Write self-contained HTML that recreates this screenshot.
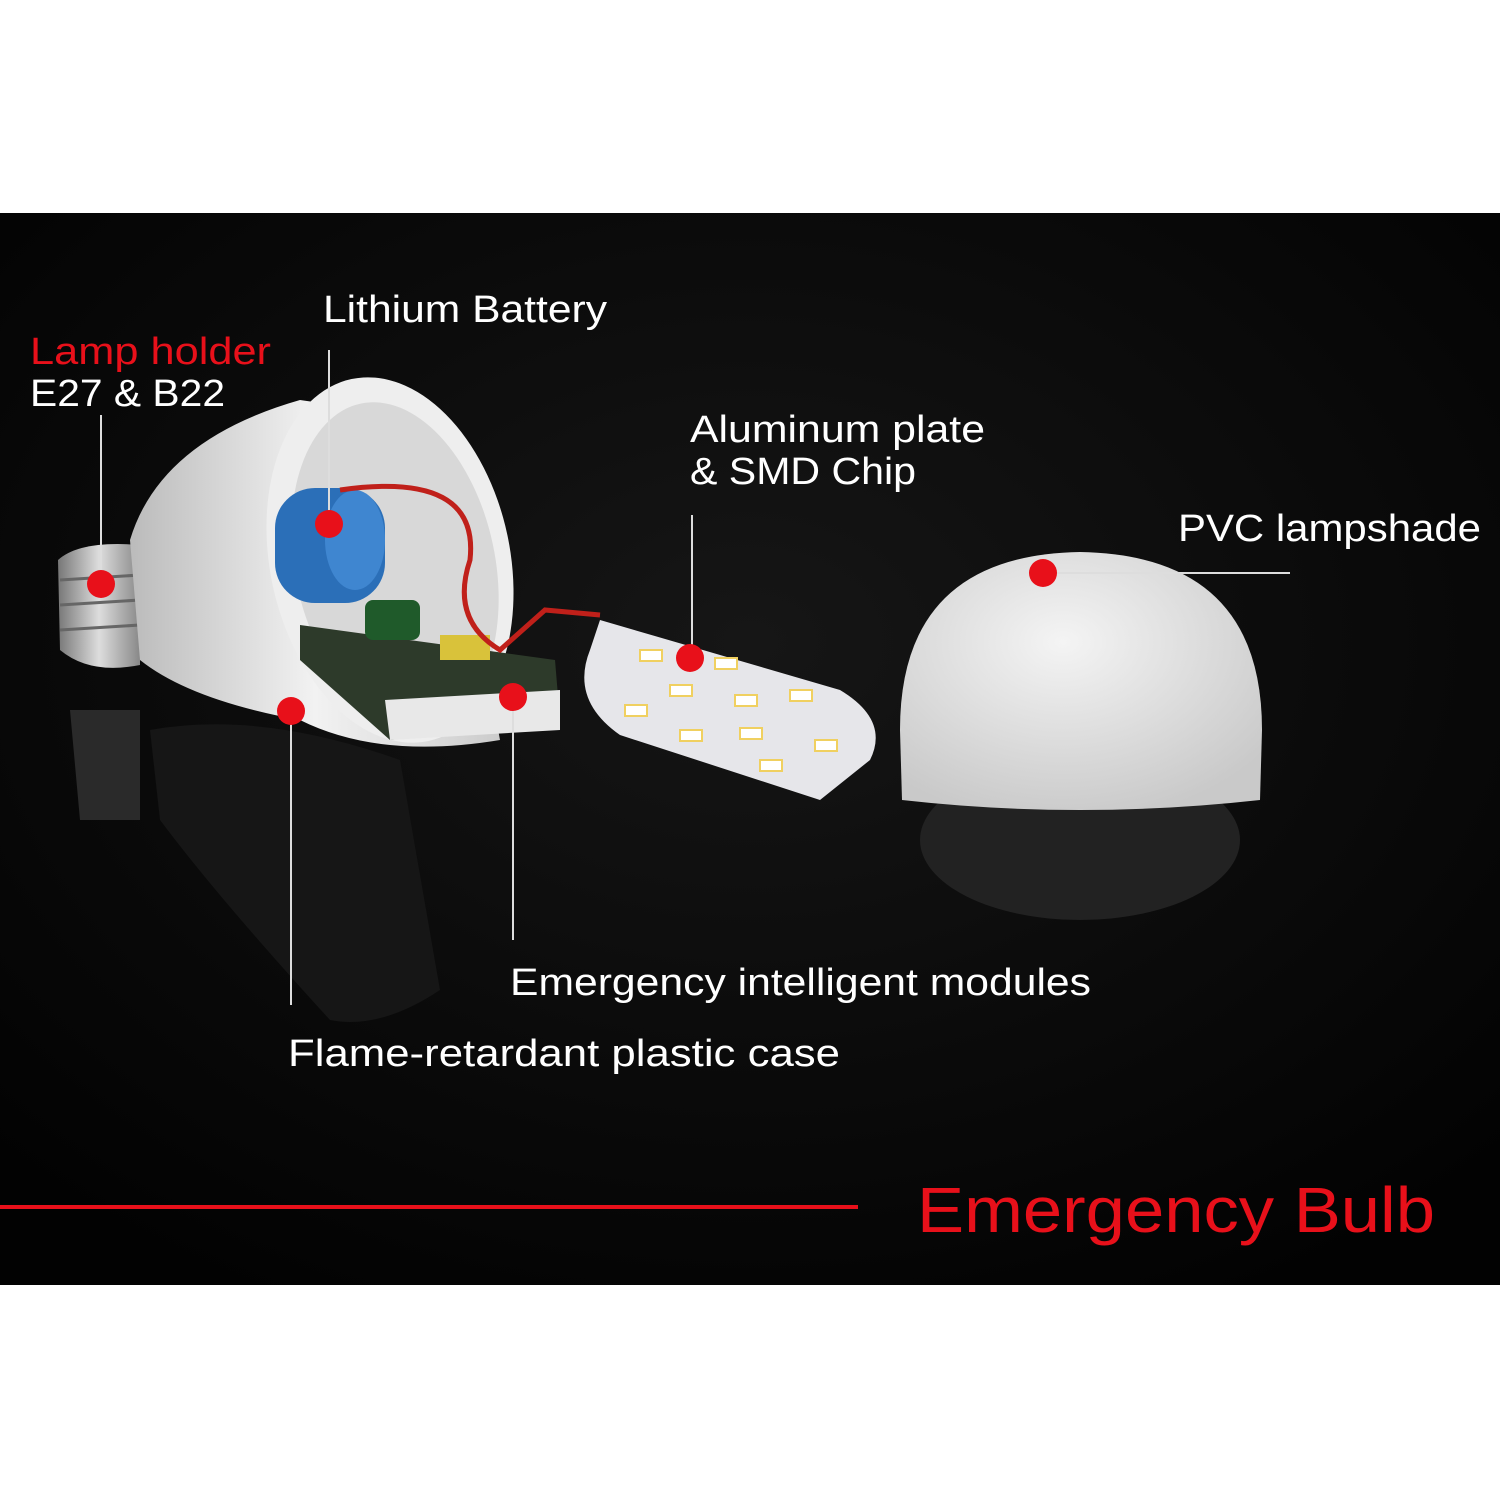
<!DOCTYPE html>
<html><head><meta charset="utf-8"><style>
html,body{margin:0;padding:0;background:#fff;width:1500px;height:1500px;overflow:hidden}
svg{display:block}
text{font-family:"Liberation Sans",sans-serif}
</style></head><body>
<svg width="1500" height="1500" viewBox="0 0 1500 1500">
<defs>
<radialGradient id="dome" cx="0.45" cy="0.35" r="0.7"><stop offset="0" stop-color="#f4f4f4"/><stop offset="1" stop-color="#c9c9c9"/></radialGradient>
<linearGradient id="metal" x1="0" y1="0" x2="1" y2="0"><stop offset="0" stop-color="#777"/><stop offset="0.5" stop-color="#ddd"/><stop offset="1" stop-color="#888"/></linearGradient>
<linearGradient id="house" x1="0" y1="0" x2="1" y2="0"><stop offset="0" stop-color="#bbb"/><stop offset="0.5" stop-color="#f2f2f2"/><stop offset="1" stop-color="#ccc"/></linearGradient>
<radialGradient id="bg" cx="0.5" cy="0.4" r="0.7"><stop offset="0" stop-color="#161616"/><stop offset="1" stop-color="#020202"/></radialGradient>
</defs>
<rect x="0" y="213" width="1500" height="1072" fill="url(#bg)"/>
<!-- reflection -->
<path d="M70 710 L140 710 L140 820 L80 820 Z" fill="#2a2a2a"/>
<path d="M150 730 Q260 710 400 760 L440 990 Q380 1030 330 1020 Q220 900 160 820 Z" fill="#161616"/>
<ellipse cx="1080" cy="840" rx="160" ry="80" fill="#222"/>
<!-- screw base -->
<path d="M58 560 Q80 540 140 545 L140 665 Q90 675 60 650 Z" fill="url(#metal)"/>
<g stroke="#666" stroke-width="3"><line x1="60" y1="580" x2="140" y2="575"/><line x1="60" y1="605" x2="140" y2="600"/><line x1="60" y1="630" x2="140" y2="625"/></g>
<!-- housing -->
<path d="M130 540 Q160 440 300 400 L440 420 L500 740 Q380 760 300 720 Q190 700 140 660 Z" fill="url(#house)"/>
<ellipse cx="390" cy="560" rx="120" ry="185" transform="rotate(-12 390 560)" fill="#eee"/>
<ellipse cx="395" cy="565" rx="100" ry="165" transform="rotate(-12 395 565)" fill="#d8d8d8"/>
<!-- battery -->
<rect x="275" y="488" width="110" height="115" rx="40" fill="#2b6fb8"/>
<ellipse cx="355" cy="540" rx="30" ry="50" fill="#3f86d0"/>
<!-- PCB -->
<path d="M300 625 L555 660 L560 720 L390 740 L300 660 Z" fill="#2d3a2a"/>
<path d="M385 700 L560 690 L560 730 L390 740 Z" fill="#e8e8e8"/>
<rect x="365" y="600" width="55" height="40" rx="8" fill="#1f5a2a"/>
<rect x="440" y="635" width="50" height="25" fill="#d9c23a"/>
<path d="M340 490 Q480 470 470 560 Q450 620 500 650 L545 610 L600 615" stroke="#c0201a" stroke-width="5" fill="none"/>
<!-- LED plate -->
<path d="M600 620 L840 690 Q890 720 870 760 L820 800 L620 735 Q570 700 590 650 Z" fill="#e6e6ea"/>
<g fill="#fff" stroke="#f0d060" stroke-width="2">
<rect x="640" y="650" width="22" height="11"/><rect x="715" y="658" width="22" height="11"/><rect x="670" y="685" width="22" height="11"/><rect x="735" y="695" width="22" height="11"/><rect x="790" y="690" width="22" height="11"/><rect x="680" y="730" width="22" height="11"/><rect x="740" y="728" width="22" height="11"/><rect x="760" y="760" width="22" height="11"/><rect x="815" y="740" width="22" height="11"/><rect x="625" y="705" width="22" height="11"/>
</g>
<!-- dome -->
<path d="M900 730 Q900 555 1080 552 Q1262 555 1262 730 L1260 800 Q1080 820 902 800 Z" fill="url(#dome)"/>
<!-- leader lines -->
<g stroke="#ddd" stroke-width="2" fill="none">
<line x1="101" y1="415" x2="101" y2="584"/>
<line x1="329" y1="350" x2="329" y2="524"/>
<line x1="692" y1="515" x2="692" y2="658"/>
<line x1="1043" y1="573" x2="1290" y2="573"/>
<line x1="513" y1="697" x2="513" y2="940"/>
<line x1="291" y1="711" x2="291" y2="1005"/>
</g>
<g fill="#e8101a">
<circle cx="101" cy="584" r="14"/><circle cx="329" cy="524" r="14"/><circle cx="690" cy="658" r="14"/><circle cx="1043" cy="573" r="14"/><circle cx="513" cy="697" r="14"/><circle cx="291" cy="711" r="14"/>
</g>
<g fill="#fff" font-size="38">
<text x="323" y="322" textLength="284" lengthAdjust="spacingAndGlyphs">Lithium Battery</text>
<text x="30" y="406" textLength="195" lengthAdjust="spacingAndGlyphs">E27 &amp; B22</text>
<text x="690" y="442" textLength="295" lengthAdjust="spacingAndGlyphs">Aluminum plate</text>
<text x="690" y="484" textLength="226" lengthAdjust="spacingAndGlyphs">&amp; SMD Chip</text>
<text x="1178" y="541" textLength="303" lengthAdjust="spacingAndGlyphs">PVC lampshade</text>
<text x="510" y="995" textLength="581" lengthAdjust="spacingAndGlyphs">Emergency intelligent modules</text>
<text x="288" y="1066" textLength="552" lengthAdjust="spacingAndGlyphs">Flame-retardant plastic case</text>
</g>
<text x="30" y="364" fill="#e8101a" font-size="38" textLength="241" lengthAdjust="spacingAndGlyphs">Lamp holder</text>
<rect x="0" y="1205" width="858" height="4" fill="#e8101a"/>
<text x="917" y="1232" fill="#e8101a" font-size="64" textLength="518" lengthAdjust="spacingAndGlyphs">Emergency Bulb</text>
</svg>
</body></html>
